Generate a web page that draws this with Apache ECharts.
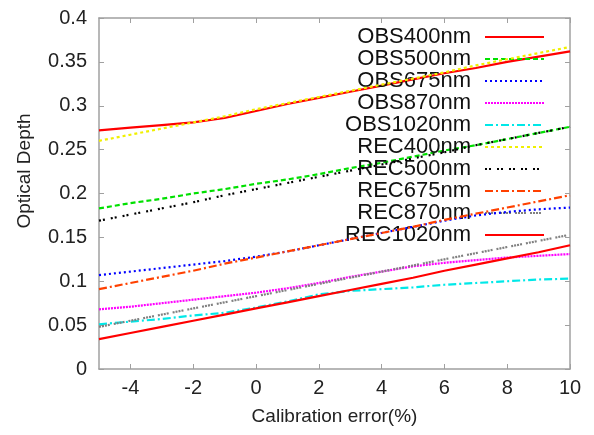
<!DOCTYPE html>
<html><head><meta charset="utf-8">
<script src="https://cdn.jsdelivr.net/npm/echarts@6/dist/echarts.min.js"></script>
<style>html,body{margin:0;padding:0;background:#fff}#c{width:594px;height:435px}</style>
</head><body><div id="c"></div>
<script>
const xValues = [-5,-4,-3,-2,-1,0,1,2,3,4,5,6,7,8,9,10];
const xTicks = [-4,-2,0,2,4,6,8,10];
const seriesNames = ['OBS400nm','OBS500nm','OBS675nm','OBS870nm','OBS1020nm','REC400nm','REC500nm','REC675nm','REC870nm','REC1020nm'];
const obs400 = [0.272,0.275,0.278,0.281,0.286,0.294,0.302,0.309,0.316,0.323,0.330,0.337,0.343,0.350,0.356,0.362];
const obs500 = [0.183,0.189,0.194,0.200,0.205,0.211,0.216,0.222,0.229,0.235,0.242,0.249,0.255,0.262,0.269,0.276];
const obs675 = [0.107,0.111,0.115,0.119,0.123,0.128,0.134,0.141,0.148,0.155,0.162,0.169,0.175,0.179,0.182,0.184];
const obs870 = [0.068,0.071,0.075,0.079,0.083,0.087,0.092,0.098,0.105,0.111,0.117,0.121,0.124,0.127,0.129,0.131];
const obs1020 = [0.051,0.054,0.057,0.061,0.064,0.070,0.077,0.085,0.089,0.091,0.093,0.096,0.098,0.100,0.102,0.103];
const rec400 = [0.260,0.267,0.274,0.281,0.288,0.296,0.303,0.310,0.317,0.324,0.331,0.338,0.346,0.353,0.360,0.367];
const rec500 = [0.169,0.176,0.183,0.190,0.198,0.205,0.212,0.219,0.226,0.233,0.240,0.247,0.255,0.262,0.269,0.276];
const rec675 = [0.091,0.098,0.105,0.112,0.120,0.127,0.134,0.141,0.148,0.155,0.162,0.170,0.177,0.184,0.191,0.198];
const rec870 = [0.048,0.055,0.062,0.069,0.076,0.083,0.090,0.097,0.104,0.111,0.118,0.125,0.132,0.139,0.146,0.153];
const rec1020 = [0.034,0.041,0.048,0.055,0.062,0.069,0.076,0.083,0.090,0.097,0.104,0.112,0.119,0.126,0.133,0.141];
const allValues = [obs400,obs500,obs675,obs870,obs1020,rec400,rec500,rec675,rec870,rec1020];
const colors = ['#ff0000','#00e000','#0000ff','#ff00ff','#00e8e8','#f0f000','#000000','#ff4000','#808080','#ff0000'];
const dashes = ['solid',[5,3],[2,3],[2,1],[8,3,2,3],[3,3],[2,2,2,6],[8,3,2,3],[2,1,2,1,2,1,2,4],'solid'];

const font = 'Liberation Sans, Arial, sans-serif';
const chart = echarts.init(document.getElementById('c'), null, {renderer:'canvas'});
const axisCol = '#a0a0a0';
const series = seriesNames.map((n,i)=>({
  name:n, type:'line', symbol:'none', smooth:false,
  data: xValues.map((x,j)=>[x, allValues[i][j]]),
  lineStyle:{color:colors[i], width:2.2, type:dashes[i]},
  itemStyle:{color:colors[i]},
  z: 2+i
}));
chart.setOption({
  animation:false,
  backgroundColor:'#fff',
  grid:{left:99, top:18, right:24, bottom:66},
  legend:{
    orient:'vertical', right:44, top:21, align:'right',
    itemWidth:59, itemHeight:12, itemGap:0,
    itemStyle:{opacity:0},
    textStyle:{fontFamily:font, fontSize:22, color:'#111', lineHeight:22, width:118, align:'right', padding:[0,9,0,0]},
    data: seriesNames.map(n=>({name:n}))
  },
  xAxis:[{
    type:'value', min:-5, max:10,
    name:'Calibration error(%)', nameLocation:'middle', nameGap:38,
    nameTextStyle:{fontFamily:font, fontSize:19, color:'#222'},
    axisLine:{show:true, onZero:false, lineStyle:{color:axisCol, width:1.5}},
    axisTick:{show:true, inside:true, length:5, customValues:xTicks, lineStyle:{color:axisCol}},
    axisLabel:{fontFamily:font, fontSize:20, color:'#222', margin:9, customValues:xTicks},
    splitLine:{show:false}
  },{
    type:'value', min:-5, max:10, position:'top',
    axisLine:{show:true, onZero:false, lineStyle:{color:axisCol, width:1.5}},
    axisTick:{show:true, inside:true, length:5, customValues:xTicks, lineStyle:{color:axisCol}},
    axisLabel:{show:false}, splitLine:{show:false}
  }],
  yAxis:[{
    type:'value', min:0, max:0.4, interval:0.05,
    axisLine:{show:true, onZero:false, lineStyle:{color:axisCol, width:1.5}},
    axisTick:{show:true, inside:true, length:5, lineStyle:{color:axisCol}},
    axisLabel:{fontFamily:font, fontSize:20, color:'#222', margin:12},
    splitLine:{show:false}
  },{
    type:'value', min:0, max:0.4, interval:0.05, position:'right',
    axisLine:{show:true, onZero:false, lineStyle:{color:axisCol, width:1.5}},
    axisTick:{show:true, inside:true, length:5, lineStyle:{color:axisCol}},
    axisLabel:{show:false}, splitLine:{show:false}
  }],
  graphic:[{
    type:'text', x:25, y:171, rotation:Math.PI/2,
    style:{text:'Optical Depth', fontFamily:font, fontSize:19, fill:'#222', align:'center', verticalAlign:'middle'}
  }],
  series: series
});
</script></body></html>
